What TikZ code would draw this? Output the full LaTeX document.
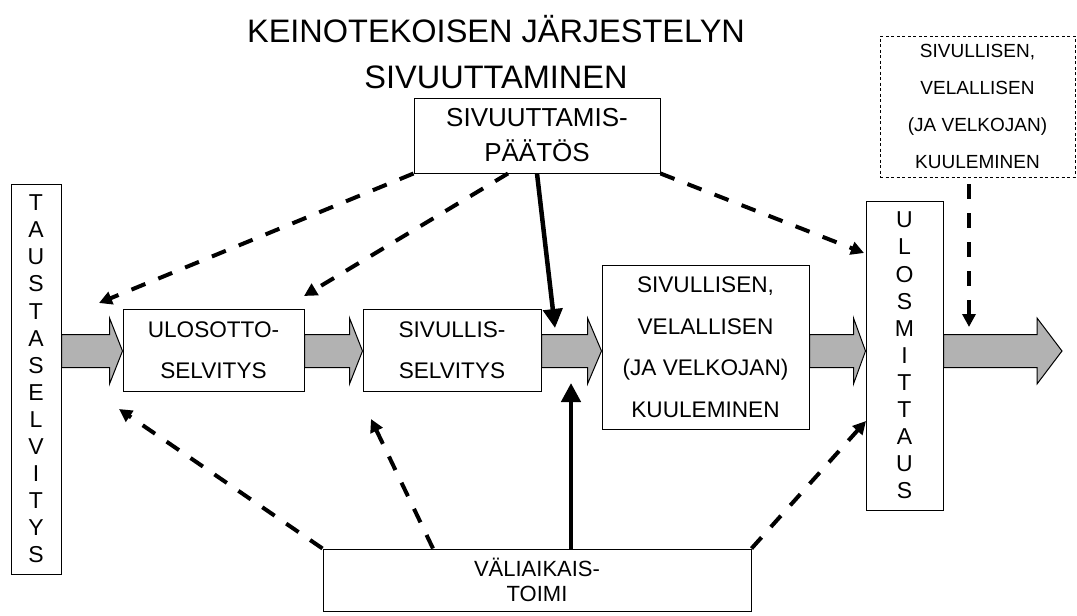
\documentclass[tikz,border=0pt]{standalone}
\usepackage{fontspec}
\setmainfont{Liberation Sans}
\usepackage{tikz}
\usetikzlibrary{calc}
\usetikzlibrary{arrows.meta}
\definecolor{btbtbt}{rgb}{0.7,0.7,0.7}
\tikzset{
  laatikko/.style={draw,line width=1pt,align=center,inner sep=0pt,font=\fontsize{22.6}{41}\selectfont},
  pysty/.style={laatikko,font=\fontsize{23}{27.1}\selectfont},
  katko/.style={line width=4pt,dash pattern=on 15pt off 14pt,-{Triangle[length=13pt,width=13pt]}},
  paksu/.style={line width=4.5pt,-{Triangle[length=19pt,width=19pt]}},
  leveanuoli/.style={draw,line width=1pt,fill=btbtbt,line join=miter}
}
\newcommand{\leveanuoli}[3]{% tail, tip, head length
  \draw[leveanuoli] (#2 |- rivi) -- ++(-#3,-33) -- ++(0,16.5) -- ($(#1 |- rivi)+(0,-16.5)$)
    -- ++(0,33) -- ($(#2 |- rivi)+(-#3,16.5)$) -- ++(0,16.5) -- cycle;}

\begin{document}
\begin{tikzpicture}[x=1pt,y=-1pt]
\useasboundingbox (0,0) rectangle (1077,616);
\coordinate (rivi) at (0,351);
% otsikko
\node[font=\fontsize{32.5}{46}\selectfont,anchor=base] (otsikko1) at (496,42) {KEINOTEKOISEN JÄRJESTELYN};
\node[font=\fontsize{32.5}{46}\selectfont,anchor=base] (otsikko2) at (496,88) {SIVUUTTAMINEN};

% laatikot
\node[laatikko,font=\fontsize{26}{35}\selectfont,minimum width=246pt,minimum height=75pt] (paatos) at (537,135.5) {SIVUUTTAMIS-\\PÄÄTÖS};
\node[pysty,minimum width=50pt,minimum height=390pt] (tausta) at (36,379) {T\\A\\U\\S\\T\\A\\S\\E\\L\\V\\I\\T\\Y\\S};
\node[laatikko,minimum width=181pt,minimum height=82pt] (ulosotto) at (213.5,350) {ULOSOTTO-\\SELVITYS};
\node[laatikko,minimum width=178pt,minimum height=82pt] (sivullis) at (452,350) {SIVULLIS-\\SELVITYS};
\node[laatikko,font=\fontsize{22.6}{41.5}\selectfont,minimum width=207pt,minimum height=164pt] (kuuleminen) at (705.5,347) {SIVULLISEN,\\VELALLISEN\\(JA VELKOJAN)\\KUULEMINEN};
\node[pysty,minimum width=77pt,minimum height=309pt] (ulosmittaus) at (904.5,355.5) {U\\L\\O\\S\\M\\I\\T\\T\\A\\U\\S};
\node[laatikko,line width=0.8pt,dash pattern=on 3pt off 2.5pt,font=\fontsize{19}{36.7}\selectfont,minimum width=195pt,minimum height=141pt] (kuulemine2) at (977.5,106.5) {SIVULLISEN,\\VELALLISEN\\(JA VELKOJAN)\\KUULEMINEN};
\node[laatikko,font=\fontsize{22}{25}\selectfont,minimum width=428pt,minimum height=62pt] (valiaikais) at (537,580) {VÄLIAIKAIS-\\TOIMI};

% leveat nuolet
\coordinate (loppu) at (1062,351);
\leveanuoli{tausta.east}{ulosotto.west}{13}
\leveanuoli{ulosotto.east}{sivullis.west}{13}
\leveanuoli{sivullis.east}{kuuleminen.west}{14}
\leveanuoli{kuuleminen.east}{ulosmittaus.west}{12}
\leveanuoli{ulosmittaus.east}{loppu}{25}

% katkoviivat ja paksut nuolet
\coordinate (d1) at (99,303);
\coordinate (d2) at (304,296);
\coordinate (h1) at (555,328);
\coordinate (d3) at (864,253);
\coordinate (d4) at (119,409);
\coordinate (d5) at (371,419);
\coordinate (h2) at (571,383);
\coordinate (d6) at (866,421);
\coordinate (d7) at (969,327);
\draw[katko] (paatos.south west) -- (d1);
\draw[katko] ([xshift=-29pt]paatos.south) -- (d2);
\draw[paksu] (paatos.south) -- (h1);
\draw[katko] (paatos.south east) -- (d3);
\draw[katko] (valiaikais.north west) -- (d4);
\draw[katko] ([xshift=-104pt]valiaikais.north) -- (d5);
\draw[paksu] ([xshift=34pt]valiaikais.north) -- (h2);
\draw[katko] (valiaikais.north east) -- (d6);
\draw[katko,shorten <=7pt] ([xshift=-8.5pt]kuulemine2.south) -- (d7);
\end{tikzpicture}
\end{document}
